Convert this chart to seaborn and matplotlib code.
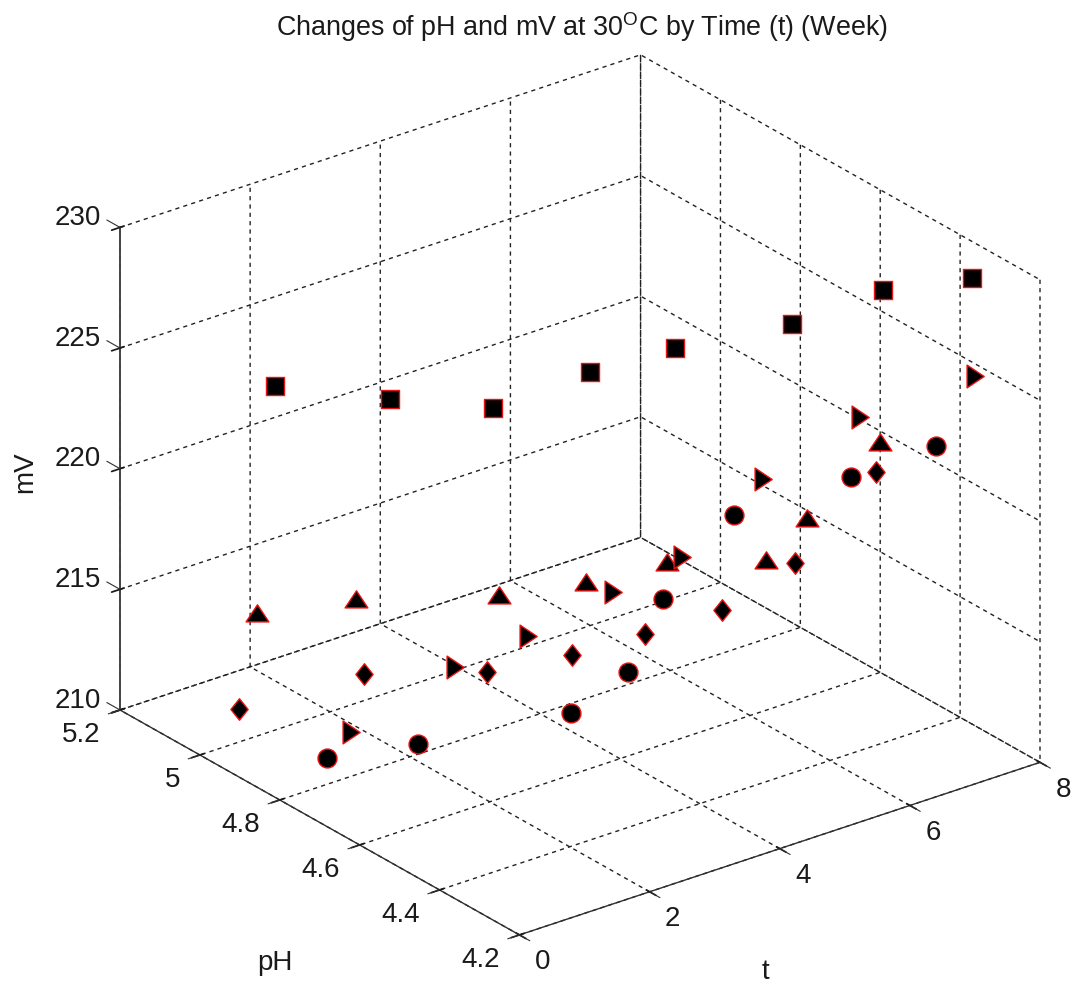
import numpy as np
import pandas as pd
import seaborn as sns
import matplotlib
matplotlib.use("Agg")
import matplotlib.pyplot as plt
from matplotlib.path import Path
from mpl_toolkits.mplot3d import proj3d

sns.set_theme(style="white")
plt.rcParams['font.family'] = ['Liberation Sans', 'DejaVu Sans']
plt.rcParams['mathtext.default'] = 'regular'
plt.rcParams['text.color'] = '#1a1a1a'

weeks = [1, 2, 3, 4, 5, 6, 7, 8]
ph_square = [4.975, 4.85, 4.755, 4.675, 4.625, 4.495, 4.43, 4.37]
mv_square = [224.65, 224.37, 223.97, 225.32, 225.89, 227.2, 228.31, 228.47]
ph_diamond = [5.065, 4.915, 4.77, 4.72, 4.70, 4.67, 4.65, 4.61]
mv_diamond = [210.41, 212.37, 212.89, 213.17, 213.34, 213.72, 214.97, 218.2]
ph_circle = [4.845, 4.78, 4.56, 4.58, 4.655, 4.64, 4.51, 4.46]
mv_circle = [210.43, 210.7, 213.15, 213.76, 215.23, 217.95, 219.82, 220.68]
ph_up = [5.02, 4.935, 4.74, 4.685, 4.645, 4.56, 4.62, 4.6]
mv_up = [214.76, 215.25, 216.33, 216.47, 216.78, 216.76, 217.05, 219.5]
ph_right = [4.7875, 4.69, 4.67, 4.62, 4.61, 4.57, 4.49, 4.365]
mv_right = [212.05, 214.74, 215.34, 216.74, 217.37, 220.07, 222.52, 224.48]

t_ticks = [0, 2, 4, 6, 8]
ph_ticks = [4.2, 4.4, 4.6, 4.8, 5.0, 5.2]
ph_labels = ['4.2', '4.4', '4.6', '4.8', '5', '5.2']
mv_ticks = [210, 215, 220, 225, 230]

W, H = 1078, 988
fig = plt.figure(figsize=(W / 100, H / 100), dpi=100, facecolor='white')
ax = fig.add_subplot(projection='3d', proj_type='ortho')
ax.view_init(elev=25.6, azim=-127.5)
ax.set_box_aspect((656, 656, 535))
ax.set_xlim(0, 8, view_margin=0)
ax.set_ylim(4.2, 5.2, view_margin=0)
ax.set_zlim(210, 230, view_margin=0)
ax.set_xticks(t_ticks)
ax.set_yticks(ph_ticks)
ax.set_yticklabels(ph_labels)
ax.set_zticks(mv_ticks)

for axis in (ax.xaxis, ax.yaxis, ax.zaxis):
    axis.set_pane_color((1, 1, 1, 0))
    axis.pane.set_edgecolor('none')
    axis.line.set_color('#303030')
    axis.line.set_linewidth(1.0)
    axis._axinfo['grid'].update(color='#222222', linewidth=1.0, linestyle=(0, (3, 3)))
ax.zaxis.line.set_linewidth(1.4)
ax.zaxis.line.set_color('#444444')
ax.grid(True)
ax.tick_params(axis='x', labelsize=20, colors='#1a1a1a', pad=7)
ax.tick_params(axis='y', labelsize=20, colors='#1a1a1a', pad=7)
ax.tick_params(axis='z', labelsize=20, colors='#1a1a1a', pad=10)
plt.setp(ax.get_xticklabels(), ha='left', va='center')
plt.setp(ax.get_yticklabels(), ha='right', va='center')
plt.setp(ax.get_zticklabels(), ha='center', va='baseline')

# short outward tick marks, each running along the neighbouring axis direction
tick_kw = dict(color='#303030', lw=0.8)
for t in t_ticks:
    ax.plot([t, t], [4.2, 4.174], [210, 210], **tick_kw)
for p in ph_ticks:
    ax.plot([0, -0.18], [p, p], [210, 210], **tick_kw)
for z in mv_ticks:
    ax.plot([0, 0], [5.2, 5.233], [z, z], **tick_kw)
ax.set_xlim(0, 8, view_margin=0)
ax.set_ylim(4.2, 5.2, view_margin=0)
ax.set_zlim(210, 230, view_margin=0)

# axis names are kept on the axes but shown at the reference's free positions
ax.set_xlabel('t')
ax.set_ylabel('pH')
ax.set_zlabel('mV')
for axis in (ax.xaxis, ax.yaxis, ax.zaxis):
    axis.label.set_visible(False)
fig.text(765 / W, 1 - 972 / H, 't', fontsize=20, ha='center', va='center')
fig.text(275 / W, 1 - 963 / H, 'pH', fontsize=20, ha='center', va='center')
fig.text(25 / W, 1 - 472 / H, 'mV', fontsize=20, rotation=90, ha='center', va='center')

series = pd.DataFrame({
    'week': weeks * 5,
    'pH': ph_square + ph_diamond + ph_circle + ph_up + ph_right,
    'mV': mv_square + mv_diamond + mv_circle + mv_up + mv_right,
    'kind': sum([[k] * len(weeks) for k in ['square', 'diamond', 'circle', 'up', 'right']], []),
})
tri_up = Path([(-1, -0.65), (1, -0.65), (0, 0.85), (-1, -0.65)], closed=True)
tri_right = Path([(-0.65, 1), (0.85, 0), (-0.65, -1), (-0.65, 1)], closed=True)
thin_diamond = Path([(0, 1), (0.8, 0), (0, -1), (-0.8, 0), (0, 1)], closed=True)
styles = {'square': ('s', 165), 'diamond': (thin_diamond, 240), 'circle': ('o', 185),
          'up': (tri_up, 270), 'right': (tri_right, 270)}
for kind, grp in series.groupby('kind', sort=False):
    m, s = styles[kind]
    ax.scatter(grp['week'], grp['pH'], grp['mV'], marker=m, s=s, c='black',
               edgecolors='#ee1111', linewidths=1.0, depthshade=False, alpha=1)

fig.text(582 / W, 1 - 27 / H, 'Changes of pH and mV at 30$^{O}$C by Time (t) (Week)',
         fontsize=19.4, ha='center', va='center')


def px(x, y, z):
    X, Y, _ = proj3d.proj_transform(x, y, z, ax.get_proj())
    return ax.transData.transform((X, Y))


side = float(H)
ax.set_position([0, 0, side / W, side / H])
fig.canvas.draw()
left, right = px(0, 5.2, 210), px(8, 4.2, 210)
side *= 920 / (right[0] - left[0])
ax.set_position([0, 0, side / W, side / H])
fig.canvas.draw()
p0 = px(0, 5.2, 210)
dx, dy = 120 - p0[0], (H - 710) - p0[1]
ax.set_position([dx / W, dy / H, side / W, side / H])

fig.savefig('out.png', dpi=100, facecolor='white')
